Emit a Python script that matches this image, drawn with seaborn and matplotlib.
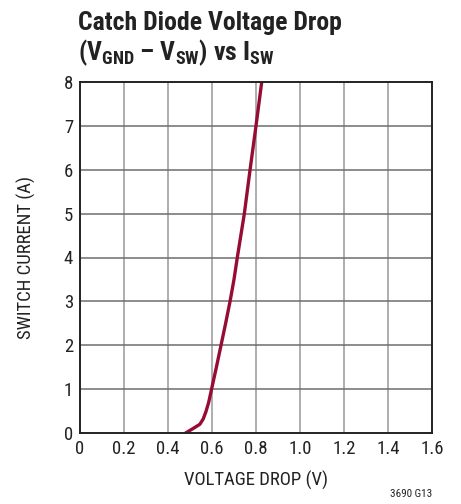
import matplotlib
matplotlib.use("Agg")
import matplotlib.pyplot as plt
import seaborn as sns
import pandas as pd

# catch diode curve
voltage_drop = [0.48, 0.50, 0.52, 0.545, 0.56, 0.572, 0.585, 0.598, 0.62, 0.641, 0.662, 0.682, 0.70, 0.715, 0.731, 0.747, 0.773, 0.800, 0.826]
switch_current = [0.0, 0.06, 0.12, 0.2, 0.32, 0.48, 0.7, 1.0, 1.5, 2.0, 2.5, 3.0, 3.5, 4.0, 4.5, 5.0, 6.0, 7.0, 8.0]
x_ticks = [0, 0.2, 0.4, 0.6, 0.8, 1.0, 1.2, 1.4, 1.6]
x_tick_labels = ["0", "0.2", "0.4", "0.6", "0.8", "1.0", "1.2", "1.4", "1.6"]
y_ticks = [0, 1, 2, 3, 4, 5, 6, 7, 8]

sns.set_style("white")
narrow = ["Roboto Condensed", "DejaVu Sans"]
plt.rcParams["font.family"] = narrow
plt.rcParams["mathtext.fontset"] = "custom"
plt.rcParams["mathtext.rm"] = "Roboto Condensed:bold"
plt.rcParams["mathtext.it"] = "Roboto Condensed:bold"
plt.rcParams["mathtext.bf"] = "Roboto Condensed:bold"

df = pd.DataFrame({"v": voltage_drop, "i": switch_current})

fig = plt.figure(figsize=(4.61, 5.04), dpi=100)
ax = fig.add_axes([80 / 461, 1 - 433 / 504, 352 / 461, 351 / 504])

sns.lineplot(data=df, x="v", y="i", color="#960c32", lw=2.4, sort=False, ax=ax)

ax.set_xlim(0, 1.6)
ax.set_ylim(0, 8)
ax.set_xticks(x_ticks)
ax.set_xticklabels(x_tick_labels)
ax.set_yticks(y_ticks)
for x in x_ticks[1:-1]:
    ax.axvline(x, color="#a8a8a8", lw=1.3, zorder=0)
for y in y_ticks[1:-1]:
    ax.axhline(y, color="#6e6e6e", lw=1.1, zorder=0)
for s in ax.spines.values():
    s.set_color("#222222")
    s.set_linewidth(1.4)
ax.tick_params(axis="both", labelsize=13.5, length=0, pad=5, colors="#222222")

ax.set_xlabel("VOLTAGE DROP (V)", fontsize=13.5, color="#222222", labelpad=9)
ax.set_ylabel("SWITCH CURRENT (A)", fontsize=13.5, color="#222222", labelpad=20)

fig.text(78 / 461, 1 - 30 / 504, "Catch Diode Voltage Drop", fontsize=18.5,
         fontweight="bold", color="#222222", va="baseline")
fig.text(78 / 461, 1 - 60 / 504, r"(V$_{GND}$ – V$_{SW}$) vs I$_{SW}$", fontsize=18.5,
         fontweight="bold", color="#222222", va="baseline")
fig.text(432 / 461, 1 - 497 / 504, "3690 G13", fontsize=8, color="#222222", ha="right")

fig.savefig("out.png", dpi=100)
